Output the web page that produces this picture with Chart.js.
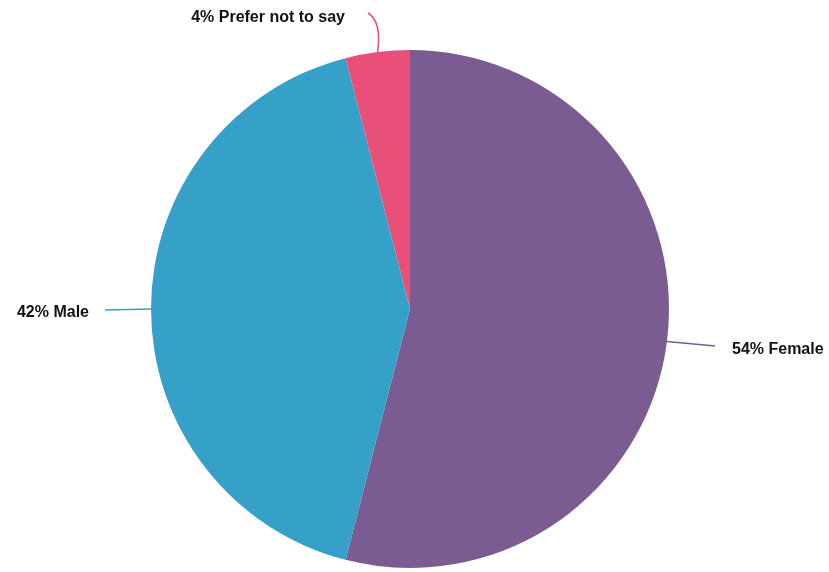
<!DOCTYPE html>
<html>
<head>
<meta charset="utf-8">
<script src="https://cdn.jsdelivr.net/npm/chart.js@4"></script>
<style>
html,body{margin:0;padding:0;background:#fff;}
#wrap{width:829px;height:572px;position:relative;}
</style>
</head>
<body>
<div id="wrap"><canvas id="c" width="829" height="572"></canvas></div>
<script>
const categories = ["Female", "Male", "Prefer not to say"];
const values = [54, 42, 4];
const colors = ["#7b5c92", "#35a0c8", "#e8507a"];

// leader line end offsets and label placement (styling)
const labelStyle = [
  {end: [715, 346], text: [732, 350], align: "left", curve: null},
  {end: [105, 310], text: [89, 313], align: "right", curve: null},
  {end: [368, 13], text: [345, 18], align: "right", curve: [382, 22]}
];

const labelPlugin = {
  id: "leaderLabels",
  afterDatasetsDraw(chart) {
    const ctx = chart.ctx;
    const meta = chart.getDatasetMeta(0);
    meta.data.forEach((arc, i) => {
      const p = arc.getProps(["x", "y", "startAngle", "endAngle", "outerRadius"], true);
      const mid = (p.startAngle + p.endAngle) / 2;
      const sx = p.x + Math.cos(mid) * p.outerRadius;
      const sy = p.y + Math.sin(mid) * p.outerRadius;
      const st = labelStyle[i];
      ctx.save();
      ctx.strokeStyle = colors[i];
      ctx.lineWidth = 1.5;
      ctx.beginPath();
      ctx.moveTo(sx, sy);
      if (st.curve) ctx.quadraticCurveTo(st.curve[0], st.curve[1], st.end[0], st.end[1]);
      else ctx.lineTo(st.end[0], st.end[1]);
      ctx.stroke();
      ctx.fillStyle = "#111";
      ctx.font = "bold 16px 'Liberation Sans', Arial, sans-serif";
      ctx.textAlign = st.align;
      ctx.textBaseline = "middle";
      ctx.fillText(values[i] + "% " + categories[i], st.text[0], st.text[1]);
      ctx.restore();
    });
  }
};

new Chart(document.getElementById("c"), {
  type: "pie",
  data: {
    labels: categories,
    datasets: [{
      data: values,
      backgroundColor: colors,
      borderWidth: 0
    }]
  },
  options: {
    responsive: false,
    animation: false,
    layout: {padding: {left: 151, right: 160, top: 50, bottom: 4}},
    plugins: {legend: {display: false}, tooltip: {enabled: false}}
  },
  plugins: [labelPlugin]
});
</script>
</body>
</html>
